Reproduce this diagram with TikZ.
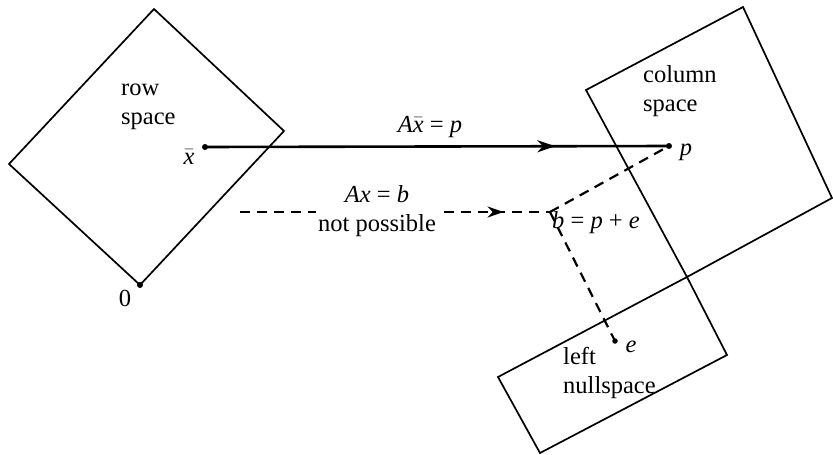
\documentclass[tikz,border=0pt]{standalone}
\usepackage{fontspec}
\setmainfont{Liberation Serif}
\usetikzlibrary{arrows.meta,decorations.markings}
\newcommand\vv[1]{\textit{#1}}
\newcommand\xbr{$\bar{\hbox{\itshape x}}$}
\begin{document}
\begin{tikzpicture}[x=1pt,y=-1pt,
  region/.style={draw=black,line width=1.7pt,line join=miter},
  lbl/.style={font=\fontsize{24.5}{29}\selectfont,inner sep=0pt},
  ptdot/.style={fill=black,circle,inner sep=0pt,minimum size=6pt},
  mainarrow/.style={line width=2.6pt,postaction={decorate},
    decoration={markings,mark=at position #1 with {\arrow{Stealth[length=18pt,width=12pt]}}}},
  dasharrow/.style={line width=2.2pt,dash pattern=on 10pt off 7pt,postaction={decorate},
    decoration={markings,mark=at position #1 with {\arrow{Stealth[length=16pt,width=11pt]}}}},
  dashline/.style={line width=2.2pt,dash pattern=on 10pt off 7pt}]
\useasboundingbox (0,0) rectangle (833,455);
% row space
\draw[region] (154,9) -- (284,131) -- (140,285) -- (9,164) -- cycle;
% column space
\draw[region] (586,90) -- (743,7) -- (832,198) -- (687,277) -- cycle;
% left nullspace
\draw[region] (498,377) -- (687,277) -- (727,355) -- (540,453) -- cycle;
% points
\node[ptdot] (zero) at (140,285) {};
\node[ptdot] (xbar) at (205,147) {};
\node[ptdot] (p) at (669,146) {};
\node[ptdot,minimum size=5.5pt] (e) at (615,341) {};
\coordinate (b) at (550,212);
\coordinate (dstart) at (240,212);
% labels
\node[lbl] at (125,298) {0};
\node[lbl] at (189,157) {\xbr};
\node[lbl] at (686,152) {\vv{p}};
\node[lbl] at (631,347) {\vv{e}};
\node[lbl,align=left,anchor=north west] at (121,84) {row\\space};
\node[lbl,align=left,anchor=north west] at (643,65) {column\\space};
\node[lbl,align=left,anchor=north west] at (563,347) {left\\nullspace};
% arrows
\draw[mainarrow=0.755] (xbar.center) -- (p.center);
\node[lbl] at (430,127) {\vv{A}\xbr{} = \vv{p}};
\draw[dasharrow=0.85] (dstart) -- (b);
\node[lbl,fill=white,align=center,inner sep=2pt] at (377,211) {\vv{Ax} = \vv{b}\\not possible};
\draw[dashline] (b) -- (p.center);
\draw[dashline] (b) -- (e.center);
\node[lbl,anchor=west] at (552,223) {\vv{b} = \vv{p} + \vv{e}};
\end{tikzpicture}
\end{document}
